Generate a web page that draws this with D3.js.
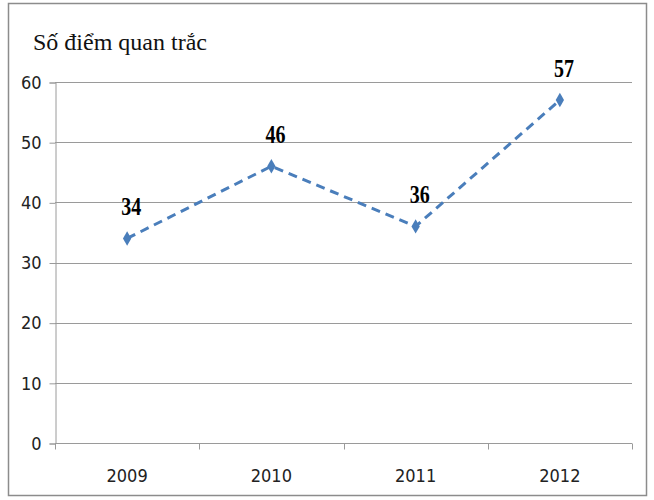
<!DOCTYPE html>
<html>
<head>
<meta charset="utf-8">
<script src="https://cdn.jsdelivr.net/npm/d3@7"></script>
<style>
  html, body { margin: 0; padding: 0; background: #fff; }
  svg { display: block; }
</style>
</head>
<body>
<svg id="chart" width="654" height="500"></svg>
<script>
// Number of monitoring points per year
const years = ["2009", "2010", "2011", "2012"];
const points = [34, 46, 36, 57];
const yTicks = [0, 10, 20, 30, 40, 50, 60];
const yLabel = "Số điểm quan trắc";

const svg = d3.select("#chart");
const W = 654, H = 500;
const margin = { left: 55, right: 22, top: 82, bottom: 57 };
const tickFont = "'Liberation Sans Narrow', 'DejaVu Sans Condensed', sans-serif";

// outer frame
svg.append("rect")
  .attr("x", 8.5).attr("y", 3.5)
  .attr("width", 638).attr("height", 492)
  .attr("fill", "#fff").attr("stroke", "#8c8c8c").attr("stroke-width", 1.5);

const x = d3.scaleBand().domain(years).range([margin.left, W - margin.right]);
const y = d3.scaleLinear().domain([0, 60]).range([H - margin.bottom, margin.top]);

// horizontal gridlines
svg.append("g").selectAll("line").data(yTicks.filter(d => d > 0)).join("line")
  .attr("x1", margin.left).attr("x2", W - margin.right)
  .attr("y1", d => Math.round(y(d)) + 0.5).attr("y2", d => Math.round(y(d)) + 0.5)
  .attr("stroke", "#9a9a9a").attr("stroke-width", 1);

// y axis
const yAxis = svg.append("g")
  .attr("transform", `translate(${margin.left + 0.5},0.5)`)
  .call(d3.axisLeft(y).tickValues(yTicks).tickSize(6).tickPadding(8));
yAxis.select(".domain").attr("stroke", "#9a9a9a");
yAxis.selectAll(".tick line").attr("stroke", "#9a9a9a");
yAxis.selectAll(".tick text")
  .attr("fill", "#222")
  .style("font-family", tickFont)
  .style("font-size", "18px");

// x axis with ticks at category boundaries
const xAxis = svg.append("g")
  .attr("transform", `translate(0,${Math.round(H - margin.bottom) + 0.5})`);
xAxis.append("line")
  .attr("x1", margin.left).attr("x2", W - margin.right)
  .attr("stroke", "#9a9a9a");
const bounds = years.map(d => x(d)).concat([x(years[years.length - 1]) + x.bandwidth()]);
xAxis.selectAll("line.b").data(bounds).join("line").attr("class", "b")
  .attr("x1", d => Math.round(d) + 0.5).attr("x2", d => Math.round(d) + 0.5)
  .attr("y1", 0).attr("y2", 6).attr("stroke", "#9a9a9a");
xAxis.selectAll("text").data(years).join("text")
  .attr("x", d => x(d) + x.bandwidth() / 2)
  .attr("y", 38)
  .attr("text-anchor", "middle")
  .attr("fill", "#222")
  .style("font-family", tickFont)
  .style("font-size", "18px")
  .text(d => d);

// axis title
svg.append("text")
  .attr("x", 33).attr("y", 50)
  .style("font-family", "'Liberation Serif', 'DejaVu Serif', serif")
  .style("font-size", "24px")
  .attr("fill", "#111")
  .text(yLabel);

const data = years.map((d, i) => ({ year: d, value: points[i] }));
const cx = d => x(d.year) + x.bandwidth() / 2;

// dashed series line
svg.append("path")
  .datum(data)
  .attr("fill", "none")
  .attr("stroke", "#4a7ebb")
  .attr("stroke-width", 3)
  .attr("stroke-dasharray", "9,6")
  .attr("d", d3.line().x(cx).y(d => y(d.value)));

// diamond markers
svg.append("g").selectAll("path").data(data).join("path")
  .attr("transform", d => `translate(${cx(d)},${y(d.value)})`)
  .attr("d", d3.symbol().type(d3.symbolDiamond).size(60))
  .attr("fill", "#4a7ebb");

// value labels (condensed bold serif)
svg.append("g").selectAll("text").data(data).join("text")
  .attr("transform", d => `translate(${cx(d) + 4},${y(d.value) - 23}) scale(0.8,1)`)
  .attr("text-anchor", "middle")
  .style("font-family", "'Liberation Serif', 'DejaVu Serif', serif")
  .style("font-size", "25px")
  .style("font-weight", "bold")
  .attr("fill", "#000")
  .text(d => d.value);
</script>
</body>
</html>
